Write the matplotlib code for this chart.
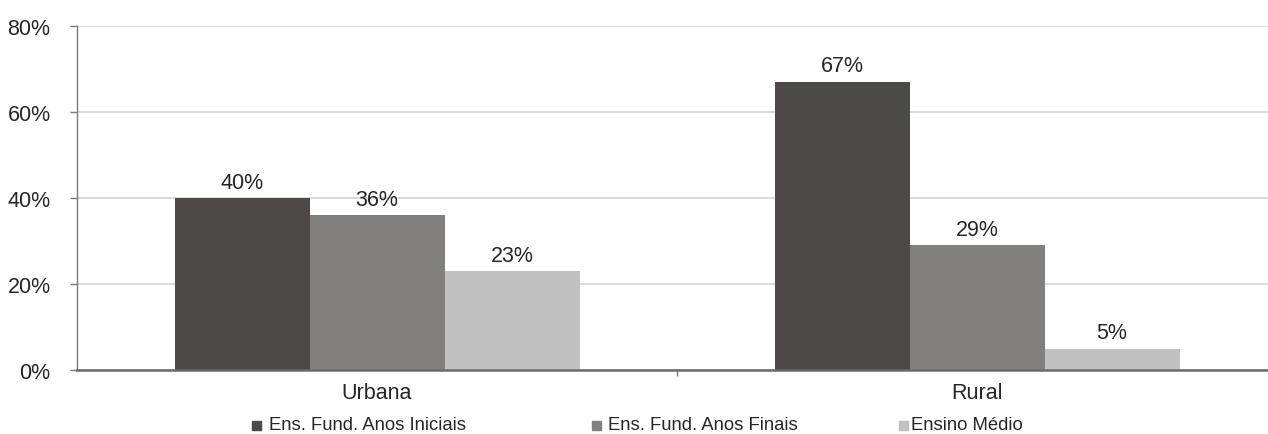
import numpy as np
import matplotlib.pyplot as plt
from matplotlib.patches import Rectangle

plt.rcParams['font.family'] = ['Liberation Sans', 'DejaVu Sans']

zonas = ['Urbana', 'Rural']
series = ['Ens. Fund. Anos Iniciais', 'Ens. Fund. Anos Finais', 'Ensino Médio']
iniciais = [40, 67]
finais = [36, 29]
medio = [23, 5]
cores = ['#4d4948', '#82807e', '#c0c0c0']

valores = [iniciais, finais, medio]

fig = plt.figure(figsize=(12.68, 4.35), dpi=100)
ax = fig.add_axes([77 / 1268, 1 - 371 / 435, 1200 / 1268, 344 / 435])

x = np.arange(len(zonas))
w = 0.225
for i, (vals, cor) in enumerate(zip(valores, cores)):
    bars = ax.bar(x + (i - 1) * w, vals, width=w, color=cor, zorder=2)
    for b, v in zip(bars, vals):
        ax.annotate(f'{v}%', (b.get_x() + b.get_width() / 2, v),
                    xytext=(0, 7.5), textcoords='offset points',
                    ha='center', va='baseline', fontsize=15.5, color='#262626')

ax.set_xlim(-0.5, 1.5)
ax.set_ylim(0, 80)
ax.set_yticks(np.arange(0, 81, 20))
ax.set_yticklabels([f'{t}%' for t in range(0, 81, 20)])
ax.yaxis.grid(True, color='#d4d4d4', linewidth=1.2, zorder=0)
ax.set_axisbelow(True)

ax.set_xticks(x)
ax.set_xticklabels(zonas)
ax.set_xticks([0.5], minor=True)
ax.tick_params(axis='x', which='major', length=0, pad=9, labelsize=15.5, labelcolor='#262626')
ax.tick_params(axis='x', which='minor', length=4, color='#7a7a7a', width=1)
ax.tick_params(axis='y', length=5, color='#7a7a7a', width=1, pad=14, labelsize=15.5, labelcolor='#262626')

for s in ['top', 'right']:
    ax.spines[s].set_visible(False)
ax.spines['left'].set_color('#7a7a7a')
ax.spines['left'].set_linewidth(1)
ax.spines['bottom'].set_color('#6a6a6a')
ax.spines['bottom'].set_linewidth(1.8)

# legenda em linha, posicionada à mão
leg_x = [252, 592, 899]
leg_gap = [17, 16, 12]
leg_y = 426
for px, gap, nome, cor in zip(leg_x, leg_gap, series, cores):
    fig.patches.append(Rectangle((px / 1268, 1 - (leg_y + 4.5) / 435), 9 / 1268, 9 / 435,
                                 transform=fig.transFigure, color=cor))
    fig.text((px + gap) / 1268, 1 - leg_y / 435, nome, fontsize=13.3,
             color='#262626', va='center', ha='left')

fig.savefig('out.png', dpi=100)
